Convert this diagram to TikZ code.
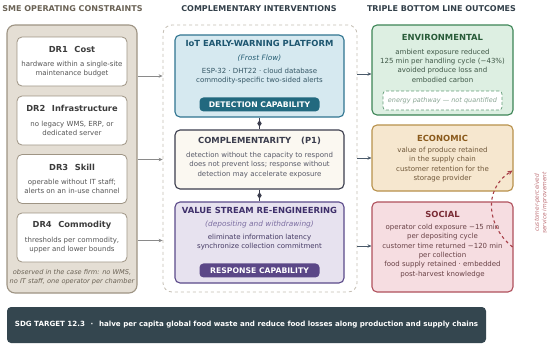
\documentclass[tikz,border=0pt]{standalone}
\usepackage{fontspec}
\setmainfont{DejaVu Sans}
\usetikzlibrary{arrows.meta,shapes.geometric,calc}
\definecolor{hdrL}{HTML}{6B6356}
\definecolor{hdr}{HTML}{33404A}
\definecolor{lfill}{HTML}{E4DED4}
\definecolor{lbord}{HTML}{9E9484}
\definecolor{drtxt}{HTML}{3C3C3C}
\definecolor{bodytxt}{HTML}{555555}
\definecolor{iotfill}{HTML}{D6E9F0}
\definecolor{iotbord}{HTML}{2F7490}
\definecolor{iottitle}{HTML}{1D5670}
\definecolor{iotbtn}{HTML}{22697F}
\definecolor{cmpfill}{HTML}{FBF8F1}
\definecolor{cmpbord}{HTML}{3B3D4D}
\definecolor{vsfill}{HTML}{E7E2EF}
\definecolor{vsbord}{HTML}{5B4A8A}
\definecolor{vstitle}{HTML}{3E2F6A}
\definecolor{vsbtn}{HTML}{5B4787}
\definecolor{envfill}{HTML}{DDEFE2}
\definecolor{envbord}{HTML}{3D8556}
\definecolor{envtitle}{HTML}{295C3A}
\definecolor{ecofill}{HTML}{F6E7CF}
\definecolor{ecobord}{HTML}{B8914B}
\definecolor{ecotitle}{HTML}{8A5A1C}
\definecolor{socfill}{HTML}{F6DDE1}
\definecolor{socbord}{HTML}{B0505C}
\definecolor{soctitle}{HTML}{7A2C35}
\definecolor{sdgfill}{HTML}{34464F}
\definecolor{arrL}{HTML}{8A8A8A}
\definecolor{arrR}{HTML}{4A5A6A}
\definecolor{loopc}{HTML}{A84048}
\tikzset{
  x=1pt, y=-1pt,
  hdrtext/.style={font=\fontsize{8}{9}\selectfont\bfseries},
  box/.style={rounded corners=5pt, inner sep=0pt, line width=1.1pt},
  drbox/.style={box, draw=lbord, fill=white, line width=0.8pt, minimum width=110pt, minimum height=49pt},
  drtitle/.style={font=\fontsize{8.3}{9}\selectfont\bfseries, text=drtxt},
  body/.style={font=\fontsize{7}{9.3}\selectfont, align=center, inner sep=0pt},
  ititle/.style={font=\fontsize{8.4}{9}\selectfont\bfseries, inner sep=0pt},
  itl/.style={font=\fontsize{7.4}{9}\selectfont\itshape, inner sep=0pt},
  btn/.style={rounded corners=4pt, minimum width=120pt, minimum height=14pt, inner sep=0pt, text=white, font=\fontsize{7.7}{8}\selectfont\bfseries},
  larr/.style={draw=arrL, line width=0.9pt, -{Stealth[length=4pt,width=3.5pt]}},
  rarr/.style={draw=arrR, line width=0.9pt, -{Stealth[length=4pt,width=3.5pt]}},
  link/.style={draw=cmpbord, line width=0.9pt},
  dmd/.style={diamond, fill=cmpbord, inner sep=0pt, minimum width=4.5pt, minimum height=7pt},
  fback/.style={draw=loopc, dashed, line width=1.1pt, -{Stealth[length=5pt,width=4.5pt]}},
}
\begin{document}
\begin{tikzpicture}
\useasboundingbox (0,0) rectangle (550,348);
\fill[white] (0,0) rectangle (550,348);

% headers
\node[hdrtext, text=hdrL] (h1) at (72.5,9) {SME OPERATING CONSTRAINTS};
\node[hdrtext, text=hdr] (h2) at (259,9) {COMPLEMENTARY INTERVENTIONS};
\node[hdrtext, text=hdr] (h3) at (441.5,9) {TRIPLE BOTTOM LINE OUTCOMES};

% left column
\node[box, draw=lbord, fill=lfill, minimum width=130pt, minimum height=268pt, rounded corners=8pt] (left) at (72,159) {};
\node[drbox] (dr1) at (72,61.5) {};
\node[drbox] (dr2) at (72,120.5) {};
\node[drbox] (dr3) at (72,179) {};
\node[drbox] (dr4) at (72,237.5) {};
\node[drtitle] (dr1t) at ([yshift=-13pt]dr1.north) {DR1\hspace{0.8em}Cost};
\node[body, text=bodytxt] (dr1b) at ([yshift=-32.5pt]dr1.north) {hardware within a single-site\\maintenance budget};
\node[drtitle] (dr2t) at ([yshift=-13pt]dr2.north) {DR2\hspace{0.8em}Infrastructure};
\node[body, text=bodytxt] (dr2b) at ([yshift=-32.5pt]dr2.north) {no legacy WMS, ERP, or\\dedicated server};
\node[drtitle] (dr3t) at ([yshift=-13pt]dr3.north) {DR3\hspace{0.8em}Skill};
\node[body, text=bodytxt] (dr3b) at ([yshift=-32.5pt]dr3.north) {operable without IT staff;\\alerts on an in-use channel};
\node[drtitle] (dr4t) at ([yshift=-13pt]dr4.north) {DR4\hspace{0.8em}Commodity};
\node[body, text=bodytxt] (dr4b) at ([yshift=-32.5pt]dr4.north) {thresholds per commodity,\\upper and lower bounds};
\node[body, font=\fontsize{6.6}{9}\selectfont\itshape, text=hdrL] (obs) at (72,277.5) {observed in the case firm: no WMS,\\no IT staff, one operator per chamber};

% middle column
\node[draw=lbord!60!white, dashed, line width=0.8pt, rounded corners=9pt, minimum width=194pt, minimum height=267pt, inner sep=0pt] (mid) at (260,158.5) {};
\node[box, draw=iotbord, fill=iotfill, minimum width=169pt, minimum height=82pt] (iot) at (259.5,76) {};
\node[ititle, text=iottitle] (iott) at ([yshift=-9pt]iot.north) {IoT EARLY-WARNING PLATFORM};
\node[itl, text=iotbord!80!black] (iotf) at ([yshift=-24pt]iot.north) {(Frost Flow)};
\node[body, text=iottitle!60!bodytxt] (iotb) at ([yshift=-41.5pt]iot.north) {ESP-32 · DHT22 · cloud database\\commodity-specific two-sided alerts};
\node[btn, fill=iotbtn] (det) at ([yshift=-70pt]iot.north) {DETECTION CAPABILITY};

\node[box, draw=cmpbord, fill=cmpfill, minimum width=169pt, minimum height=59pt] (cmp) at (259.5,159.5) {};
\node[ititle, text=cmpbord] (cmpt) at ([yshift=-11pt]cmp.north) {COMPLEMENTARITY\hspace{1.2em}(P1)};
\node[body, text=cmpbord!85!white] (cmpb) at ([yshift=-35.5pt]cmp.north) {detection without the capacity to respond\\does not prevent loss; response without\\detection may accelerate exposure};

\node[box, draw=vsbord, fill=vsfill, minimum width=169pt, minimum height=81pt] (vs) at (259.5,242.5) {};
\node[ititle, text=vstitle] (vst) at ([yshift=-9pt]vs.north) {VALUE STREAM RE-ENGINEERING};
\node[itl, text=vsbord!80!white] (vsi) at ([yshift=-23pt]vs.north) {(depositing and withdrawing)};
\node[body, text=vstitle!70!bodytxt] (vsb) at ([yshift=-40.5pt]vs.north) {eliminate information latency\\synchronize collection commitment};
\node[btn, fill=vsbtn] (resp) at ([yshift=-69pt]vs.north) {RESPONSE CAPABILITY};

\draw[link] (iot.south) -- (cmp.north);
\node[dmd] (d1) at ($(iot.south)!0.5!(cmp.north)$) {};
\draw[link] (cmp.south) -- (vs.north);
\node[dmd] (d2) at ($(cmp.south)!0.5!(vs.north)$) {};

% right column
\node[box, draw=envbord, fill=envfill, minimum width=141pt, minimum height=90pt] (env) at (442.5,70) {};
\node[ititle, text=envtitle] (envt) at ([yshift=-13pt]env.north) {ENVIRONMENTAL};
\node[body, text=envtitle!50!bodytxt] (envb) at ([yshift=-41pt]env.north) {ambient exposure reduced\\125 min per handling cycle (−43\%)\\avoided produce loss and\\embodied carbon};
\node[draw=envbord!80!white, densely dashed, fill=white, line width=0.7pt, rounded corners=3pt, minimum width=119pt, minimum height=19pt, inner sep=0pt, font=\fontsize{6.5}{8}\selectfont\itshape, text=envtitle!55!white] (envq) at (442.5,100.5) {energy pathway — not quantified};

\node[box, draw=ecobord, fill=ecofill, minimum width=141pt, minimum height=66pt] (eco) at (442.5,158) {};
\node[ititle, text=ecotitle] (ecot) at ([yshift=-14pt]eco.north) {ECONOMIC};
\node[body, text=ecotitle!50!bodytxt] (ecob) at ([yshift=-40pt]eco.north) {value of produce retained\\in the supply chain\\customer retention for the\\storage provider};

\node[box, draw=socbord, fill=socfill, minimum width=141pt, minimum height=90pt] (soc) at (442.5,247) {};
\node[ititle, text=soctitle] (soct) at ([yshift=-13pt]soc.north) {SOCIAL};
\node[body, text=soctitle!50!bodytxt] (socb) at ([yshift=-49.5pt]soc.north) {operator cold exposure −15 min\\per depositing cycle\\customer time returned −120 min\\per collection\\food supply retained · embedded\\post-harvest knowledge};

% arrows left -> middle
\draw[larr] (iot.west -| left.east) -- (iot.west -| mid.west);
\draw[larr] (cmp.west -| left.east) -- (cmp.west -| mid.west);
\draw[larr] ([yshift=2pt]vs.west -| left.east) -- ([yshift=2pt]vs.west -| mid.west);

% arrows middle -> right
\draw[rarr] ([yshift=-4pt]env.west -| mid.east) -- ([yshift=-4pt]env.west);
\draw[rarr] (eco.west -| mid.east) -- (eco.west);
\draw[rarr] ([yshift=1pt]soc.west -| mid.east) -- ([yshift=1pt]soc.west);

% feedback loop
\coordinate (ls) at ([xshift=-1pt]soc.east);
\coordinate (le) at ([xshift=-1pt,yshift=21pt]eco.south east);
\draw[fback] (ls) .. controls (488,228) and (482,190) .. (le);
\node[rotate=90, align=center, font=\fontsize{5.8}{7.5}\selectfont\itshape, text=loopc!75!white] (loopl) at (541,203) {customer-perceived\\service improvement};

% SDG bar
\node[fill=sdgfill, rounded corners=4pt, minimum width=479pt, minimum height=36pt, inner sep=0pt] (sdg) at (246.5,325) {};
\node[font=\fontsize{7.1}{8}\selectfont\bfseries, text=white, inner sep=0pt] (sdgt) at (sdg.center) {SDG TARGET 12.3\hspace{0.8em}·\hspace{0.8em}halve per capita global food waste and reduce food losses along production and supply chains};
\end{tikzpicture}
\end{document}
